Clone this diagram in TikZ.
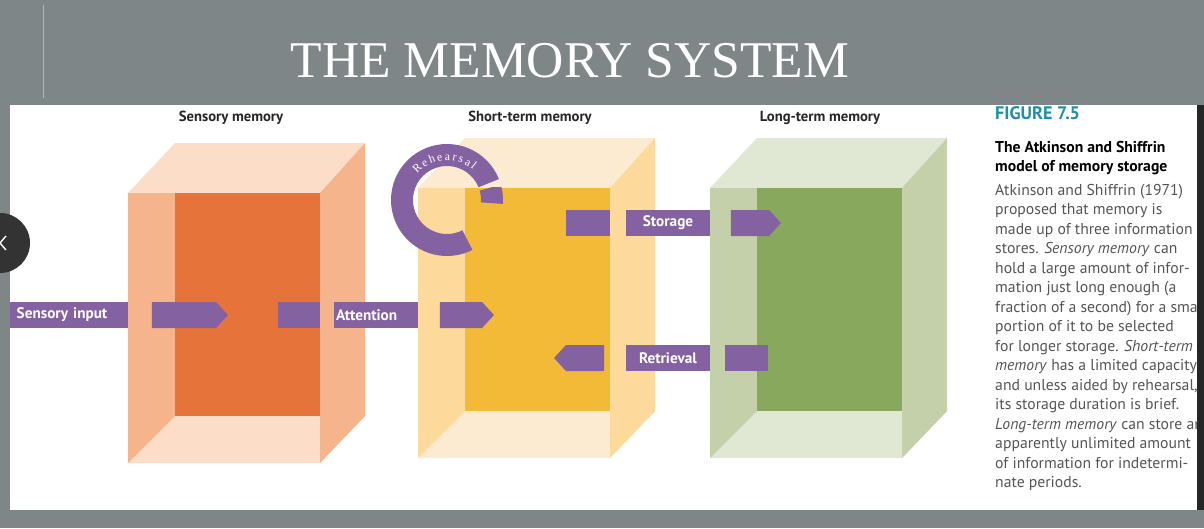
\documentclass[tikz,border=0pt]{standalone}
\usepackage{fontspec}
\setmainfont{Liberation Serif}
\setsansfont{PT Sans}
\usetikzlibrary{shapes.symbols, decorations.text, positioning}

\definecolor{slide}{HTML}{7E8687}
\definecolor{flowpurple}{HTML}{8462A1}
\definecolor{figteal}{HTML}{1F8FA5}
\definecolor{bodygrey}{HTML}{555555}
\definecolor{orIn}{HTML}{E5733A}
\definecolor{orMid}{HTML}{F6B48C}
\definecolor{orLt}{HTML}{FBDDC8}
\definecolor{yeIn}{HTML}{F2BA37}
\definecolor{yeMid}{HTML}{FDD99B}
\definecolor{yeLt}{HTML}{FDEBD1}
\definecolor{grIn}{HTML}{88A85D}
\definecolor{grMid}{HTML}{C3D0AA}
\definecolor{grLt}{HTML}{E0E7D3}

\def\px{0.03cm}
% open box: #1 front left x, #2 front top y, #3 inner, #4 side, #5 top/bottom
\newcommand{\membox}[5]{%
  \fill[#5] (#1,#2) -- ++(47,-50) -- ++(190,0) -- ++(-45,50) -- cycle;
  \fill[#5] (#1,#2+270) -- ++(47,-47) -- ++(190,0) -- ++(-45,47) -- cycle;
  \fill[#4] (#1,#2) -- ++(47,0) -- ++(0,223) -- ++(-47,47) -- cycle;
  \fill[#4] (#1+192,#2) -- ++(45,-50) -- ++(0,273) -- ++(-45,47) -- cycle;
  \fill[#3] (#1+47,#2) rectangle (#1+192,#2+223);
}

\begin{document}
\begin{tikzpicture}[
    x=\px, y=-\px,
    font=\sffamily,
    flow/.style={fill=flowpurple, inner sep=0pt, minimum height=26*\px},
    flowlabel/.style={flow, text=white, font=\sffamily\bfseries\fontsize{13}{15}\selectfont},
    tip/.style={flow, signal, signal pointer angle=95},
    store/.style={font=\sffamily\bfseries\fontsize{12.5}{14}\selectfont, text=black!85},
    body/.style={anchor=base west, inner sep=0pt, text=bodygrey, font=\sffamily\fontsize{13.4}{15}\selectfont}
]
    \useasboundingbox (0,0) rectangle (1204,528);
    \fill[slide] (0,0) rectangle (1204,528);
    \draw[slide!60!white, line width=0.6pt] (43,5) -- (43,98);
    \node[text=white, font=\rmfamily\fontsize{44}{50}\selectfont, inner sep=0pt] (title) at (570,61) {THE MEMORY SYSTEM};

    % white page
    \fill[white] (10,105) rectangle (1197,510);
    \fill[black!85] (1197,105) rectangle (1204,510);

    % Stores
    \membox{128}{193}{orIn}{orMid}{orLt}
    \membox{418}{188}{yeIn}{yeMid}{yeLt}
    \membox{710}{188}{grIn}{grMid}{grLt}
    \node[store] (sens) at (231,118) {Sensory memory};
    \node[store] (stm) at (530,118) {Short-term memory};
    \node[store] (ltm) at (820,118) {Long-term memory};

    % Input row
    \node[flowlabel, minimum width=118*\px, anchor=west, text width=112*\px, align=left] (input) at (10,315) {\hspace*{3pt}Sensory input};
    \node[tip, signal to=east, minimum width=76*\px] (a1) at (184,315) {};
    \node[flow, minimum width=42*\px] (b1) at (299,315) {};
    \node[flowlabel, minimum width=84*\px, align=left, text width=80*\px] (attn) at (376,315) {Attention};
    \node[tip, signal to=east, minimum width=54*\px] (a2) at (461,315) {};

    % Storage row
    \node[flow, minimum width=44*\px] (s1) at (588,223) {};
    \node[flowlabel, minimum width=84*\px] (storage) at (668,223) {Storage};
    \node[tip, signal to=east, minimum width=50*\px] (s2) at (750,223) {};

    % Retrieval row
    \node[tip, signal to=west, minimum width=50*\px] (r1) at (585,358) {};
    \node[flowlabel, minimum width=84*\px] (retrieval) at (668,358) {Retrieval};
    \node[flow, minimum width=43*\px] (r2) at (746,358) {};

    % Rehearsal loop
    \coordinate (loop) at (447,200);
    \fill[flowpurple] ([shift={(-22:56)}]loop) arc[start angle=-22, end angle=-297, radius=56]
        -- ([shift={(-297:34)}]loop) arc[start angle=-297, end angle=-22, radius=34] -- cycle;
    \begin{scope}
      \clip (476,187) rectangle (520,260);
      \fill[flowpurple] ([shift={(4:56)}]loop) arc[start angle=4, end angle=-16, radius=56]
          -- ([shift={(-16:34)}]loop) arc[start angle=-16, end angle=4, radius=34] -- cycle;
    \end{scope}
    \path[font=\sffamily\bfseries\fontsize{13}{15}\selectfont, decorate,
        decoration={text along path, text align=center, raise=-4.5pt,
        text={|\color{white}|R e h e a r s a l}}]
        ([shift={(-160:45)}]loop) arc[start angle=-160, end angle=-28, radius=45];

    % Caption
    \begin{scope}
      \clip (990,105) rectangle (1197,510);
      \node[anchor=base west, inner sep=0pt, text=figteal, font=\sffamily\bfseries\fontsize{15.5}{17}\selectfont] (fig) at (995,119) {FIGURE 7.5};
      \node[body, text=black, font=\sffamily\bfseries\fontsize{13.4}{15}\selectfont] (cap1) at (995,152) {The Atkinson and Shiffrin};
      \node[body, text=black, font=\sffamily\bfseries\fontsize{13.4}{15}\selectfont] (cap2) at (995,171) {model of memory storage};
      \foreach \txt [count=\i] in {
          Atkinson and Shiffrin (1971),
          proposed that memory is,
          made up of three information,
          stores. \textit{Sensory memory} can,
          hold a large amount of infor-,
          mation just long enough (a,
          fraction of a second) for a small,
          portion of it to be selected,
          for longer storage. \textit{Short-term},
          \textit{memory} has a limited capacity,
          and unless aided by rehearsal{,},
          its storage duration is brief.,
          \textit{Long-term memory} can store an,
          apparently unlimited amount,
          of information for indetermi-,
          nate periods.}
        \node[body] (line\i) at (995,{175.5+19.5*\i}) {\txt};
    \end{scope}

    % slide control
    \fill[black!80] (0,243) circle[radius=30];
    \draw[white, line width=1.2pt] (6,236) -- (0,243) -- (6,250);
\end{tikzpicture}
\end{document}
